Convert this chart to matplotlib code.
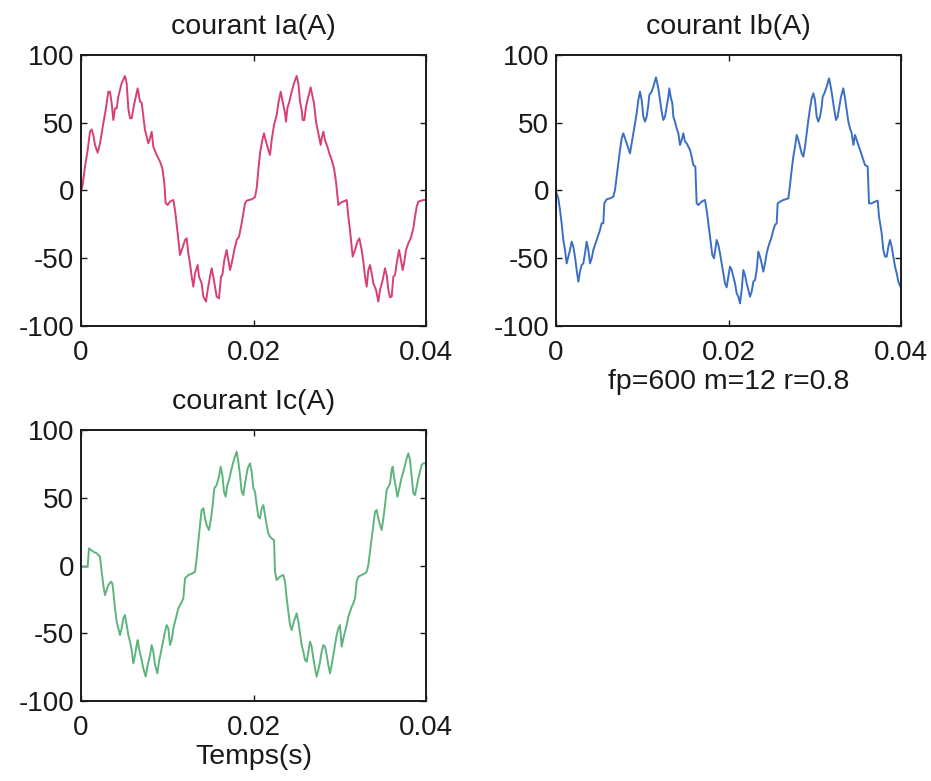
import numpy as np
import matplotlib
matplotlib.use("Agg")
import matplotlib.pyplot as plt

plt.rcParams['font.family'] = ['Liberation Sans', 'DejaVu Sans']
plt.rcParams['axes.unicode_minus'] = False

# temps en ms, courants en A
t_a = [0.0, 0.155, 0.464, 0.773, 1.043, 1.237, 1.43, 1.623, 1.932, 2.203, 2.589, 2.86,
       3.169, 3.362, 3.555, 3.749, 3.942, 4.135, 4.328, 4.715, 5.101, 5.294, 5.488, 5.681,
       5.874, 6.184, 6.57, 6.841, 7.034, 7.227, 7.42, 7.807, 8.0, 8.193, 8.386, 8.773,
       9.159, 9.43, 9.662, 9.817, 10.048, 10.319, 10.705, 10.898, 11.208, 11.478, 11.749,
       12.058, 12.251, 12.444, 12.638, 12.831, 13.024, 13.217, 13.526, 13.681, 13.99,
       14.183, 14.492, 14.686, 14.956, 15.149, 15.343, 15.536, 15.729, 15.999, 16.231,
       16.386, 16.618, 16.888, 17.082, 17.275, 17.468, 17.777, 18.048, 18.318, 18.628,
       19.014, 19.207, 19.787, 20.17, 20.367, 20.56, 20.753, 21.063, 21.217, 21.449,
       21.72, 21.913, 22.106, 22.377, 22.686, 22.879, 23.15, 23.459, 23.652, 23.768,
       23.922, 24.154, 24.425, 24.695, 25.005, 25.198, 25.391, 25.584, 25.7, 25.894,
       26.087, 26.357, 26.628, 26.86, 27.014, 27.246, 27.517, 27.787, 27.903, 28.096,
       28.29, 28.56, 28.792, 29.062, 29.333, 29.565, 29.835, 30.106, 30.415, 30.802,
       30.995, 31.188, 31.497, 31.768, 32.038, 32.27, 32.541, 32.734, 32.927, 33.12,
       33.314, 33.507, 33.7, 33.893, 34.203, 34.473, 34.666, 34.976, 35.246, 35.439,
       35.633, 35.826, 36.019, 36.212, 36.405, 36.599, 36.869, 37.062, 37.294, 37.449,
       37.681, 37.951, 38.222, 38.531, 38.724, 38.917, 39.11, 39.69, 40.0]
ia = [0.0, 2.8, 17.6, 29.9, 43.4, 45.1, 41.0, 33.6, 27.9, 34.8, 49.6, 59.4,
      72.9, 72.9, 64.3, 52.0, 60.6, 60.6, 69.2, 79.1, 84.5, 79.1, 60.6, 53.3,
      53.3, 64.3, 75.4, 65.6, 64.8, 54.5, 44.6, 34.8, 38.5, 43.4, 32.3, 26.2,
      21.3, 16.4, 5.3, -9.5, -10.7, -8.2, -7.0, -14.4, -31.6, -47.6, -42.7,
      -36.5, -35.3, -46.4, -53.8, -63.6, -71.0, -61.1, -55.0, -63.6, -68.5,
      -78.3, -82.0, -73.4, -63.6, -57.4, -63.6, -71.0, -78.3, -79.6, -63.6,
      -62.4, -51.3, -43.9, -51.3, -58.7, -53.8, -43.9, -36.5, -34.1, -24.2,
      -9.5, -7.5, -6.5, -5.0, 1.6, 15.1, 27.4, 38.5, 42.2, 36.0,
      29.9, 26.2, 37.3, 48.3, 55.7, 64.3, 72.9, 63.1, 56.9, 50.8,
      60.6, 65.6, 72.9, 79.1, 84.5, 79.1, 65.6, 59.4, 52.0, 52.0,
      61.9, 69.2, 76.1, 69.2, 64.3, 50.8, 42.2, 33.6, 38.5, 43.4,
      37.3, 32.3, 27.4, 22.5, 16.4, 6.5, -10.7, -9.0, -8.2, -7.0,
      -19.3, -29.2, -48.8, -43.9, -37.8, -35.3, -43.9, -52.5, -63.6, -71.0,
      -58.7, -55.0, -61.1, -68.5, -73.4, -82.0, -73.4, -66.0, -57.4, -62.4,
      -73.4, -78.8, -78.3, -63.6, -62.4, -53.8, -43.9, -50.1, -58.7, -53.8,
      -43.9, -39.0, -35.3, -27.9, -19.3, -11.9, -8.2, -7.0, -7.0]

t_b = [0.0, 0.27, 0.464, 0.657, 0.85, 1.043, 1.237, 1.43, 1.623, 1.816, 2.01, 2.203,
       2.396, 2.589, 2.782, 2.976, 3.169, 3.362, 3.555, 3.749, 3.942, 4.135, 4.328,
       4.715, 5.101, 5.294, 5.488, 5.604, 5.874, 6.261, 6.647, 6.841, 7.034, 7.227,
       7.42, 7.614, 7.807, 8.0, 8.193, 8.58, 8.773, 8.966, 9.159, 9.353, 9.546, 9.739,
       9.932, 10.126, 10.319, 10.512, 10.705, 10.821, 11.092, 11.285, 11.594, 11.865,
       12.058, 12.251, 12.444, 12.638, 12.831, 13.024, 13.14, 13.295, 13.488, 13.604,
       13.797, 13.99, 14.183, 14.377, 14.57, 14.763, 14.956, 15.149, 15.536, 15.729,
       15.923, 16.155, 16.309, 16.502, 16.889, 17.275, 17.468, 17.662, 17.855, 18.125,
       18.318, 18.628, 18.821, 19.014, 19.207, 19.401, 19.594, 19.787, 19.98, 20.174,
       20.367, 20.56, 20.753, 20.947, 21.14, 21.333, 21.526, 21.72, 21.913, 22.106,
       22.299, 22.493, 22.686, 22.879, 23.072, 23.265, 23.459, 23.652, 23.845, 24.038,
       24.232, 24.425, 24.618, 24.811, 25.005, 25.198, 25.391, 25.584, 25.7, 25.971,
       26.357, 26.937, 27.13, 27.323, 27.517, 27.71, 27.903, 28.096, 28.29, 28.483,
       28.676, 28.869, 29.062, 29.256, 29.449, 29.642, 29.835, 30.029, 30.222, 30.415,
       30.608, 30.802, 30.918, 31.111, 31.381, 31.652, 31.884, 32.038, 32.232, 32.463,
       32.657, 32.811, 33.043, 33.314, 33.507, 33.7, 33.893, 34.087, 34.28, 34.473,
       34.666, 34.86, 35.053, 35.246, 35.439, 35.633, 35.826, 36.135, 36.29, 36.599,
       36.985, 37.294, 37.449, 37.758, 37.951, 38.144, 38.338, 38.531, 38.724, 38.917,
       39.11, 39.304, 39.497, 39.69, 40.0]
ib = [-0.9, -5.8, -14.4, -24.2, -36.5, -43.9, -53.8, -48.8, -43.9, -37.8, -41.5, -48.8,
      -58.7, -67.3, -59.9, -55.0, -53.8, -46.4, -37.8, -43.9, -53.8, -50.1, -43.9,
      -36.5, -29.2, -24.2, -24.2, -9.5, -6.5, -5.8, -4.6, 0.4, 10.2, 20.0,
      29.9, 38.5, 42.2, 38.5, 34.8, 27.4, 34.8, 42.2, 49.6, 56.9, 66.8, 72.9,
      66.8, 54.5, 50.8, 54.5, 63.1, 70.5, 72.9, 76.6, 83.5, 75.4,
      66.8, 58.2, 52.0, 54.5, 61.9, 69.2, 75.4, 69.2, 64.3, 54.5,
      50.8, 45.9, 42.2, 33.6, 37.3, 42.2, 36.0, 34.8, 29.9, 25.0,
      18.8, 17.6, -9.5, -10.7, -8.2, -7.0, -14.4, -24.2, -34.1, -47.6,
      -50.1, -36.5, -40.2, -46.4, -53.8, -61.1, -68.5, -71.5, -63.6, -56.2,
      -58.7, -63.6, -68.5, -75.9, -78.3, -83.3, -73.4, -58.7, -62.4, -68.5,
      -73.4, -78.3, -74.7, -67.3, -66.1, -58.7, -45.1, -48.8, -53.8, -59.9,
      -53.8, -46.4, -41.5, -37.8, -34.1, -29.2, -25.5, -24.2, -9.5, -8.2,
      -7.0, -5.8, 4.1, 15.1, 25.0, 32.3, 41.0, 37.3, 32.3, 27.4,
      25.0, 32.3, 42.2, 52.0, 60.6, 68.0, 71.7, 66.8, 54.5, 50.8,
      54.5, 61.9, 69.2, 71.7, 76.6, 82.8, 75.4, 69.2, 60.6, 52.0,
      54.5, 60.6, 69.2, 75.4, 68.0, 59.4, 50.8, 45.9, 42.2, 33.6,
      41.0, 37.3, 33.6, 29.9, 26.2, 22.5, 18.8, 17.6, -9.5, -9.5,
      -8.2, -7.5, -19.3, -31.6, -43.9, -48.8, -48.8, -41.5, -36.5, -41.5,
      -48.8, -56.2, -61.1, -67.3, -72.0]

t_c = [0.0, 0.464, 0.773, 0.927, 1.159, 1.43, 1.816, 2.203, 2.396, 2.589, 2.782, 2.976,
       3.169, 3.478, 3.633, 3.749, 3.942, 4.135, 4.328, 4.522, 4.715, 4.908, 5.101,
       5.294, 5.488, 5.681, 5.874, 6.067, 6.261, 6.454, 6.57, 6.725, 7.034, 7.227,
       7.498, 7.73, 8.0, 8.193, 8.386, 8.58, 8.85, 9.043, 9.275, 9.546, 9.739, 9.932,
       10.126, 10.319, 10.512, 10.705, 11.092, 11.285, 11.594, 11.865, 12.058, 12.444,
       12.908, 13.217, 13.41, 13.604, 13.797, 13.99, 14.183, 14.377, 14.57, 14.84,
       15.072, 15.265, 15.459, 15.729, 15.999, 16.193, 16.386, 16.579, 16.772, 16.966,
       17.159, 17.468, 17.777, 18.048, 18.241, 18.434, 18.628, 18.821, 19.014, 19.323,
       19.594, 19.787, 19.98, 20.174, 20.367, 20.56, 20.753, 20.947, 21.14, 21.333,
       21.526, 21.72, 21.913, 22.106, 22.377, 22.493, 22.686, 23.072, 23.459, 23.652,
       23.845, 24.038, 24.232, 24.425, 24.618, 24.811, 25.005, 25.198, 25.391, 25.584,
       25.778, 25.971, 26.164, 26.357, 26.551, 26.744, 26.937, 27.13, 27.323, 27.517,
       27.71, 27.903, 28.096, 28.29, 28.483, 28.676, 28.869, 29.062, 29.256, 29.449,
       29.642, 29.835, 30.029, 30.222, 30.415, 30.608, 30.802, 30.995, 31.188, 31.381,
       31.575, 31.768, 31.961, 32.154, 32.541, 32.927, 33.12, 33.314, 33.507, 33.7,
       33.893, 34.087, 34.28, 34.473, 34.666, 34.86, 35.053, 35.246, 35.439, 35.633,
       35.826, 36.019, 36.135, 36.29, 36.522, 36.676, 36.908, 37.101, 37.372, 37.565,
       37.758, 37.951, 38.144, 38.338, 38.531, 38.724, 38.917, 39.11, 39.304, 39.497,
       39.69, 40.0]
ic = [-0.9, -0.9, -0.9, 12.7, 11.4, 10.2, 9.0, 6.5, -4.6, -14.4, -21.8, -18.1,
      -14.4, -11.9, -13.2, -19.3, -31.6, -41.5, -46.4, -51.3, -46.4, -39.0, -36.5,
      -43.9, -51.3, -56.2, -62.4, -72.2, -66.1, -58.7, -55.0, -61.1, -69.7, -75.9,
      -82.0, -73.4, -66.1, -58.7, -63.6, -73.4, -79.6, -71.0, -63.6, -55.0, -48.8, -43.9,
      -46.4, -58.7, -55.0, -46.4, -36.5, -31.6, -27.9, -24.2, -9.5, -7.0,
      -5.8, -4.6, 5.3, 17.6, 29.9, 41.0, 42.2, 34.8, 29.9, 26.2,
      34.8, 44.6, 57.0, 59.4, 65.6, 72.9, 66.8, 54.5, 50.8, 59.4,
      63.1, 71.7, 79.1, 84.0, 76.6, 66.8, 54.5, 52.0, 60.6, 71.7,
      75.4, 69.2, 57.0, 54.5, 44.6, 36.0, 34.8, 42.2, 44.6, 37.3,
      29.9, 23.7, 21.3, 20.0, 18.8, -4.6, -10.7, -8.2, -7.0, -11.9,
      -24.2, -34.1, -43.9, -47.6, -42.7, -39.0, -35.3, -41.5, -50.1, -58.7,
      -63.6, -69.7, -71.0, -63.6, -56.2, -59.9, -68.5, -75.9, -82.0, -77.1,
      -71.0, -63.6, -58.7, -59.9, -66.1, -73.4, -79.6, -73.4, -66.1, -58.7,
      -51.3, -46.4, -43.9, -59.9, -53.8, -48.8, -43.9, -37.8, -34.1, -30.4,
      -27.9, -24.2, -11.9, -8.2, -7.0, -5.8, -4.6, 0.4, 10.2, 20.0,
      29.9, 39.7, 41.0, 34.8, 29.9, 26.2, 34.8, 44.6, 55.7, 58.2,
      60.6, 70.5, 72.9, 65.6, 57.0, 50.8, 57.0, 63.1, 69.2, 74.2,
      79.1, 82.8, 77.9, 65.6, 53.3, 52.0, 58.2, 64.3, 69.2, 74.2,
      75.4, 75.4]

titres = ['courant Ia(A)', 'courant Ib(A)', 'courant Ic(A)']
couleurs = ['#d8416f', '#3b6fc6', '#5db47c']

fig = plt.figure(figsize=(9.31, 7.81), dpi=100)
positions = [[0.087, 0.5826, 0.3706, 0.347],
             [0.5972, 0.5826, 0.3706, 0.347],
             [0.087, 0.1024, 0.3706, 0.347]]

donnees = [(t_a, ia), (t_b, ib), (t_c, ic)]
axes = []
for k in range(3):
    ax = fig.add_axes(positions[k])
    tt = np.array(donnees[k][0]) / 1000.
    ax.plot(tt, donnees[k][1], color=couleurs[k], linewidth=1.4)
    ax.set_xlim(0, 0.04)
    ax.set_ylim(-100, 100)
    ax.set_xticks([0, 0.02, 0.04])
    ax.set_xticklabels(['0', '0.02', '0.04'])
    ax.set_yticks([-100, -50, 0, 50, 100])
    ax.tick_params(direction='in', top=True, right=True, length=4, width=1,
                   labelsize=20, colors='#1a1a1a')
    ax.tick_params(axis='x', pad=10)
    ax.tick_params(axis='y', pad=5)
    for s in ax.spines.values():
        s.set_linewidth(1.4)
        s.set_color('#1a1a1a')
    ax.set_title(titres[k], fontsize=20.5, pad=15, color='#1a1a1a')
    axes.append(ax)

axes[1].set_xlabel('fp=600 m=12 r=0.8', fontsize=20.5, labelpad=2, color='#1a1a1a')
axes[2].set_xlabel('Temps(s)', fontsize=20.5, labelpad=2, color='#1a1a1a')

plt.savefig('out.png', dpi=100)
